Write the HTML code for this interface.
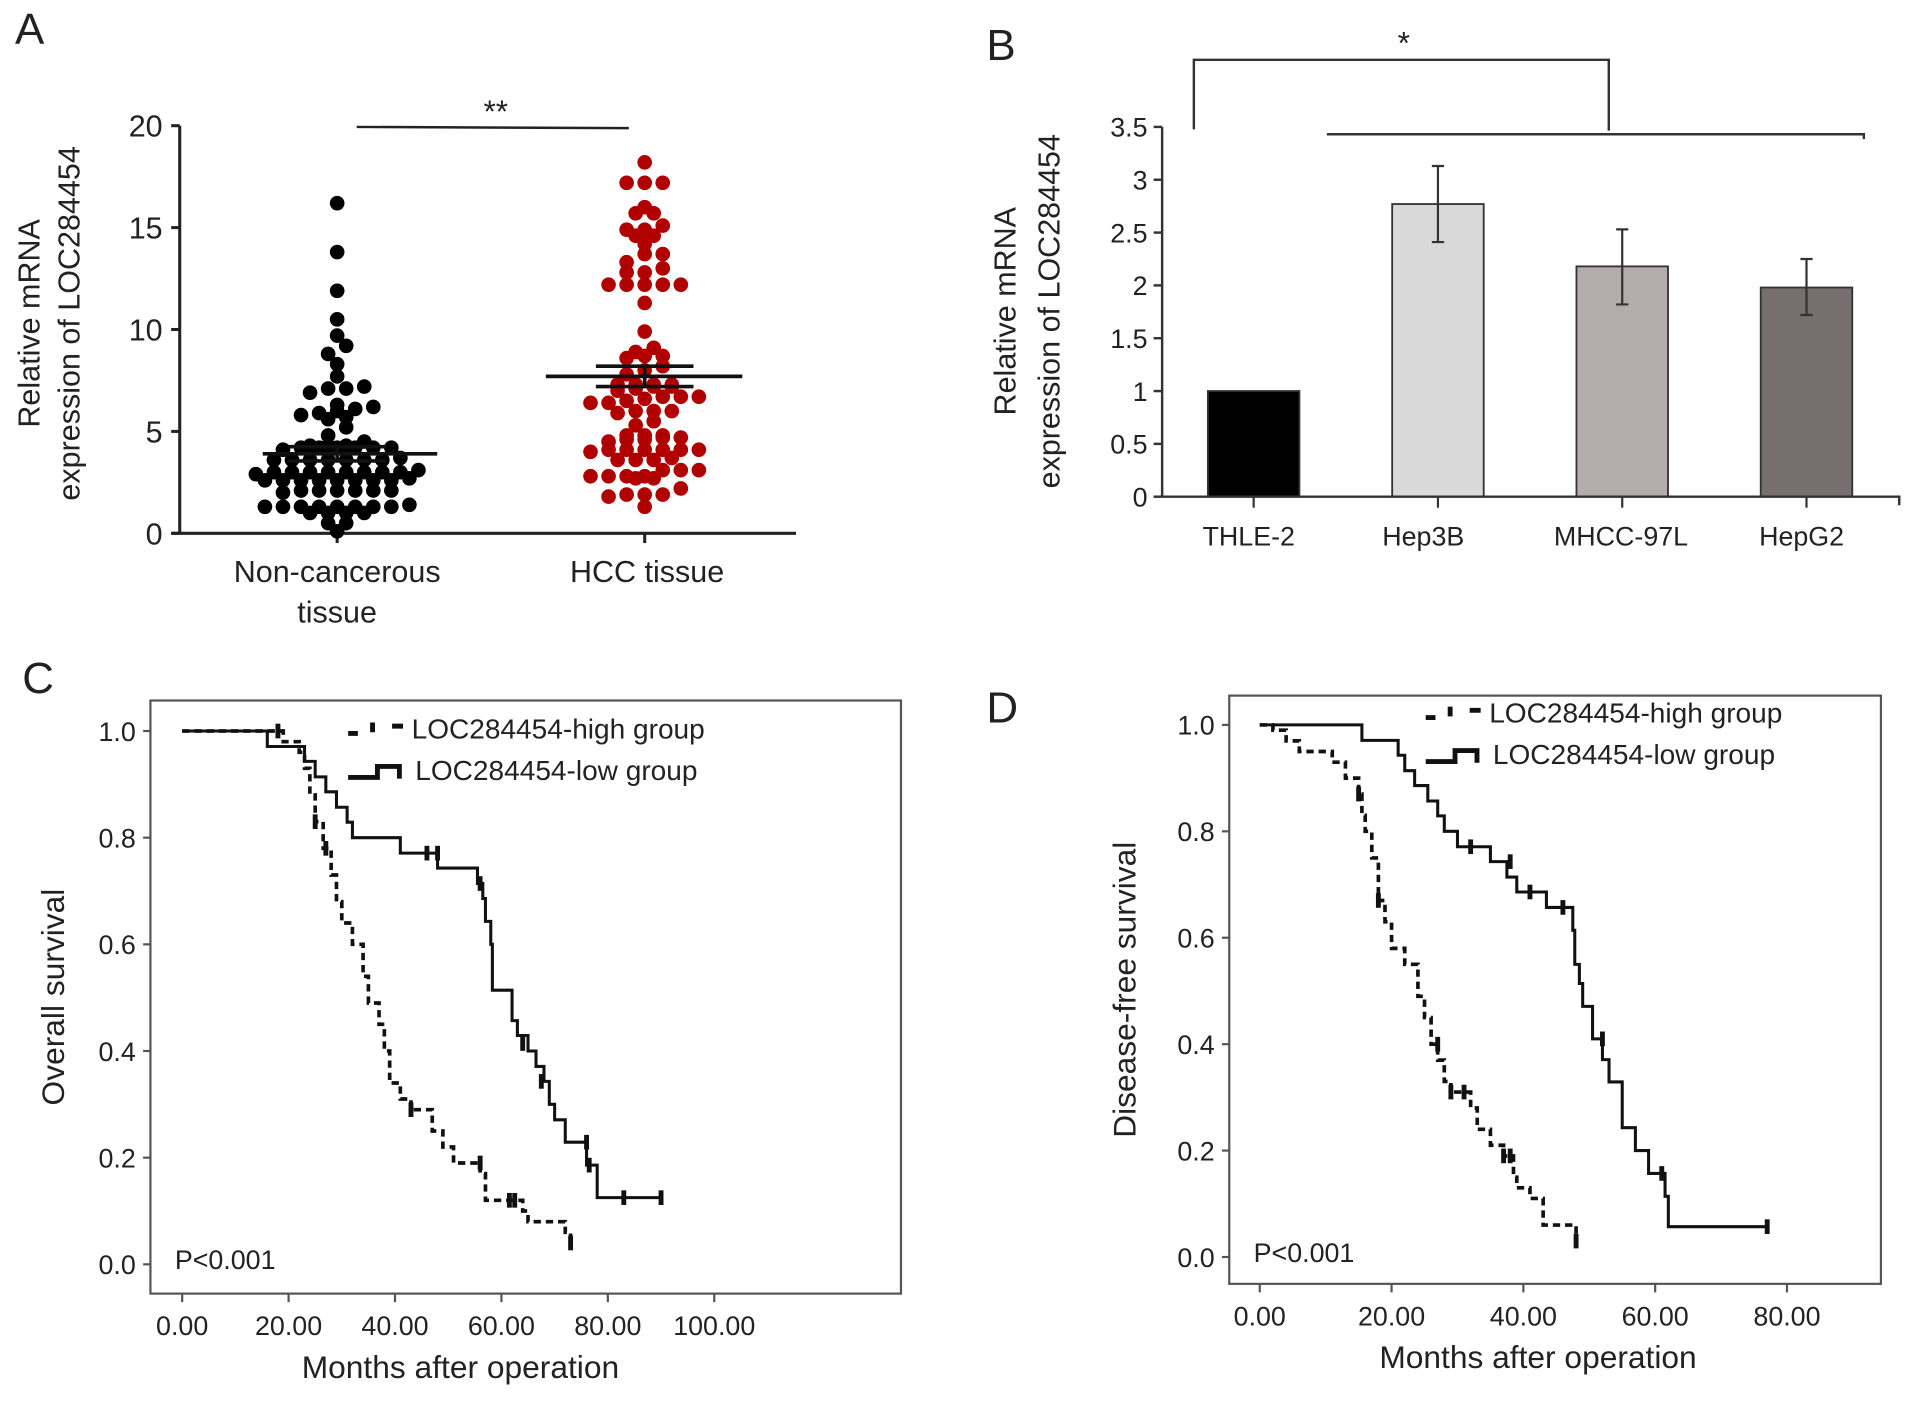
<!DOCTYPE html>
<html><head><meta charset="utf-8"><style>
html,body{margin:0;padding:0;background:#fff;}
svg{display:block;font-family:"Liberation Sans",Arial,sans-serif;}
</style></head><body>
<svg id="fig" width="1913" height="1401" viewBox="0 0 1567 1148" xmlns="http://www.w3.org/2000/svg">
<rect width="1567" height="1148" fill="#fff"/>
</svg>
<script>
// ---------- Panel A data ----------
const aCategories = ["Non-cancerous tissue", "HCC tissue"];
const aNonCancer = [16.2,13.8,11.9,10.5,9.7,9.2,8.8,8.3,7.7,7.2,7.1,7.1,6.9,6.3,6.1,6.2,6.0,5.8,5.7,5.6,5.9,5.2,4.8,4.5,4.3,4.2,4.2,4.2,4.2,4.1,4.3,4.2,4.2,4.3,3.6,3.6,3.6,3.7,3.6,3.6,3.6,3.6,3.0,3.0,3.1,3.0,3.0,3.0,3.0,3.0,3.0,2.9,2.6,2.6,2.6,2.6,2.6,2.7,2.6,2.6,2.6,2.1,2.1,2.1,2.0,2.1,2.1,2.1,1.3,1.3,1.3,1.3,1.3,1.3,1.3,1.4,1.3,1.0,1.0,1.0,1.0,0.5,0.5,0.1];
const aHCC = [18.2,17.2,17.2,17.2,16.0,15.7,15.7,15.1,14.9,14.9,14.6,14.6,14.2,13.7,13.7,13.3,13.0,12.8,12.8,12.2,12.2,12.2,12.2,12.2,11.3,9.9,9.1,8.9,8.7,8.7,8.6,8.2,8.0,7.8,7.3,7.3,7.2,7.3,7.1,7.0,7.3,7.2,6.7,6.7,6.6,6.7,6.5,6.4,6.4,6.0,6.0,5.9,6.0,5.5,5.3,4.8,4.8,4.7,4.8,4.6,4.6,4.7,4.5,4.1,4.1,4.1,4.1,4.0,4.1,4.1,3.6,3.6,3.7,3.6,3.1,3.1,3.1,2.8,2.8,2.8,2.7,2.7,2.8,2.2,1.9,1.9,1.9,1.8,1.3];
const aMeans = [3.9, 7.7];
const aSEM = [0.35, 0.5];
const aTicks = [0,5,10,15,20];
// ---------- Panel B data ----------
const bCategories = ["THLE-2","Hep3B","MHCC-97L","HepG2"];
const bValues = [1.0, 2.77, 2.18, 1.98];
const bErrLow = [1.0, 2.41, 1.82, 1.72];
const bErrHigh = [1.0, 3.13, 2.53, 2.25];
const bColors = ["#000000","#d9d9d9","#b3abac","#776e70"];
const bTicks = [0,0.5,1,1.5,2,2.5,3,3.5];
// ---------- Panel C data (KM steps: [time, survival]) ----------
const cLowSteps = [[0,1],[16,0.971],[23,0.943],[25,0.914],[27,0.886],[29,0.857],[31,0.829],[32,0.8],[41,0.771],[48,0.743],[55.5,0.714],[56.5,0.686],[57,0.643],[58,0.6],[58.3,0.514],[62,0.457],[63,0.429],[65,0.4],[66.5,0.371],[68,0.343],[69,0.3],[70,0.271],[72,0.229],[76,0.186],[78,0.125],[90,0.125]];
const cLowCensor = [[46,0.771],[48,0.771],[56,0.714],[64,0.414],[67.5,0.343],[76,0.229],[76.5,0.186],[83,0.125],[90,0.125]];
const cHighSteps = [[0,1],[19,0.98],[22,0.96],[23,0.93],[24,0.88],[25,0.83],[26.5,0.78],[28,0.73],[29,0.68],[30,0.64],[32,0.6],[34,0.54],[35,0.49],[37,0.45],[38,0.4],[39,0.34],[41,0.31],[43,0.29],[47,0.25],[49,0.22],[51,0.19],[56,0.17],[57,0.12],[64,0.1],[65,0.08],[72,0.06],[73,0.04]];
const cHighCensor = [[18,1.0],[25,0.83],[27,0.78],[43,0.29],[56,0.19],[61.5,0.12],[62.5,0.12],[73,0.04]];
const cXTicks = [0,20,40,60,80,100];
const kmYTicks = [0,0.2,0.4,0.6,0.8,1.0];
// ---------- Panel D data ----------
const dLowSteps = [[0,1],[15.5,0.971],[21,0.943],[22,0.914],[23.5,0.886],[25.5,0.857],[27,0.829],[28,0.8],[30,0.771],[35,0.743],[37.5,0.714],[39,0.686],[43.5,0.657],[47.5,0.614],[47.8,0.55],[48.5,0.514],[49,0.471],[50.5,0.41],[52,0.371],[53,0.329],[55,0.243],[57,0.2],[59,0.157],[61.5,0.114],[62,0.057],[77,0.057]];
const dLowCensor = [[32,0.771],[38,0.743],[41,0.686],[46,0.657],[52,0.41],[61,0.157],[77,0.057]];
const dHighSteps = [[0,1],[2,0.99],[4,0.97],[6,0.95],[11,0.93],[13,0.9],[15,0.87],[15.5,0.83],[16,0.8],[17,0.75],[18,0.67],[19,0.63],[20,0.58],[22,0.55],[24,0.49],[25,0.45],[26,0.4],[27,0.37],[28,0.33],[29,0.31],[32,0.28],[33,0.24],[35,0.21],[37,0.19],[38.5,0.15],[39,0.13],[41,0.11],[43,0.06],[47.5,0.06],[48,0.03]];
const dHighCensor = [[15,0.87],[18,0.67],[27,0.4],[29,0.31],[31,0.31],[37,0.19],[38,0.19],[48,0.03]];
const dXTicks = [0,20,40,60,80];

const NS="http://www.w3.org/2000/svg";
const svg=document.getElementById('fig');
function mk(tag, attrs, parent){
  const e=document.createElementNS(NS,tag);
  for(const k in attrs) e.setAttribute(k,attrs[k]);
  (parent||svg).appendChild(e); return e;
}
function txt(s, x, y, size, anchor, parent, rot){
  const t=mk('text',{x:x,y:y,'font-size':size,'text-anchor':anchor||'middle',fill:'#222'},parent);
  if(rot) t.setAttribute('transform','rotate(-90 '+x+' '+y+')');
  t.textContent=s; return t;
}
function grp(name){
  const g=mk('g',{});
  
  
  return g;
}

// ================= Panel A =================
(function(){
  const g=grp('panel-a');
  const lbl=txt('A',12,36,36,'start',g);
  
  
  const y=v=>437-v*(437-103)/20;
  const cx=[276,528];
  const ax=mk('path',{d:'M147 103 V437 M140 437 H652',stroke:'#222','stroke-width':2.5,fill:'none'},g);
  
  
  aTicks.forEach(v=>{
    const tk=mk('line',{x1:140,x2:147,y1:y(v),y2:y(v),stroke:'#222','stroke-width':2.5},g);
    
    
    const tl=txt(String(v),133,y(v)+9,25,'end',g);
    
    
  });
  cx.forEach(x=>{
    const tk=mk('line',{x1:x,x2:x,y1:437,y2:445,stroke:'#222','stroke-width':2.5},g);
    
    
  });
  const l1=txt('Non-cancerous',276,477,25,'middle',g);
  
  
  const l1b=txt('tissue',276,510,25,'middle',g);
  
  
  const l2=txt('HCC tissue',530,477,25,'middle',g);
  
  
  const t1=txt('Relative mRNA',32,265,25,'middle',g,true);
  
  
  const t2=txt('expression of LOC284454',65,265,25,'middle',g,true);
  
  
  const sl=mk('line',{x1:292,x2:515,y1:104,y2:105,stroke:'#222','stroke-width':2},g);
  
  
  const st=txt('**',406,100,26,'middle',g);
  
  
  // beeswarm: bin values into rows, spread each row horizontally
  const r=6, d=14.8;
  [[aNonCancer,'#000'],[aHCC,'#b00000']].forEach((pair,gi)=>{
    const bins={};
    pair[0].forEach(v=>{const k=Math.round(v*2)/2;(bins[k]=bins[k]||[]).push(v);});
    Object.keys(bins).forEach(k=>{
      const arr=bins[k].slice().sort((a,b)=>a-b);
      const n=arr.length;
      arr.forEach((v,j)=>{
        const px=cx[gi]+(j-(n-1)/2)*d;
        const c=mk('circle',{cx:px,cy:y(v),r:r,fill:pair[1]},g);
        
        
      });
    });
  });
  // mean & SEM
  [[215,358],[447,608]].forEach((w,i)=>{
    const m=mk('line',{x1:w[0],x2:w[1],y1:y(aMeans[i]),y2:y(aMeans[i]),stroke:'#111','stroke-width':3},g);
    
    
    const mid=cx[i];
    const e=mk('path',{d:`M${mid-40} ${y(aMeans[i]+aSEM[i])} H${mid+40} M${mid-40} ${y(aMeans[i]-aSEM[i])} H${mid+40} M${mid} ${y(aMeans[i]+aSEM[i])} V${y(aMeans[i]-aSEM[i])}`,stroke:'#111','stroke-width':3,fill:'none'},g);
    
    
  });
})();

// ================= Panel B =================
(function(){
  const g=grp('panel-b');
  const lbl=txt('B',808,49,36,'start',g);
  
  
  const y=v=>407-v*(407-104)/3.5;
  const centers=[1027,1178,1329,1480], bw=75;
  bCategories.forEach((c,i)=>{
    const b=mk('rect',{x:centers[i]-bw/2,y:y(bValues[i]),width:bw,height:407-y(bValues[i]),fill:bColors[i],stroke:'#333','stroke-width':1.5},g);
    
    
    if(bErrHigh[i]!==bErrLow[i]){
      const e=mk('path',{d:`M${centers[i]} ${y(bErrHigh[i])} V${y(bErrLow[i])} M${centers[i]-5} ${y(bErrHigh[i])} H${centers[i]+5} M${centers[i]-5} ${y(bErrLow[i])} H${centers[i]+5}`,stroke:'#333','stroke-width':1.8,fill:'none'},g);
      
      
    }
    const tk=mk('line',{x1:centers[i],x2:centers[i],y1:407,y2:416,stroke:'#333','stroke-width':1.8},g);
    
    
    const tl=txt(c,[1023,1166,1328,1476][i],447,22,'middle',g);
    
    
  });
  const ax=mk('path',{d:'M952 104 V407 M952 407 H1556 V414',stroke:'#333','stroke-width':2,fill:'none'},g);
  
  
  bTicks.forEach(v=>{
    const tk=mk('line',{x1:945,x2:952,y1:y(v),y2:y(v),stroke:'#333','stroke-width':2},g);
    
    
    const tl=txt(String(v),940,y(v)+8,22,'end',g);
    
    
  });
  const t1=txt('Relative mRNA',832,255,25,'middle',g,true);
  
  
  const t2=txt('expression of LOC284454',868,255,25,'middle',g,true);
  
  
  const br=mk('path',{d:'M978 106 V49 H1318 V107 M1087 110 H1527 L1527 114',stroke:'#333','stroke-width':2,fill:'none'},g);
  
  
  const st=txt('*',1150,44,26,'middle',g);
  
  
})();

// ================= KM panels =================
function km(cfg){
  const g=grp(cfg.name);
  const lbl=txt(cfg.letter,cfg.lx,cfg.ly,36,'start',g);
  
  
  const X=t=>cfg.x0+t*cfg.xs, Y=v=>cfg.y0-v*cfg.ys;
  const box=mk('rect',{x:cfg.bx1,y:cfg.by1,width:cfg.bx2-cfg.bx1,height:cfg.by2-cfg.by1,fill:'none',stroke:'#555','stroke-width':1.8},g);
  
  
  kmYTicks.forEach(v=>{
    const tk=mk('line',{x1:cfg.bx1-6,x2:cfg.bx1,y1:Y(v),y2:Y(v),stroke:'#555','stroke-width':1.8},g);
    
    
    const tl=txt(v.toFixed(1),cfg.bx1-12,Y(v)+8,22,'end',g);
    
    
  });
  cfg.xticks.forEach(t=>{
    const tk=mk('line',{x1:X(t),x2:X(t),y1:cfg.by2,y2:cfg.by2+7,stroke:'#555','stroke-width':1.8},g);
    
    
    const tl=txt(t.toFixed(2),X(t),cfg.by2+34,22,'middle',g);
    
    
  });
  const xt=txt('Months after operation',cfg.xtx,cfg.by2+69,26,'middle',g);
  
  
  const yt=txt(cfg.ytitle,cfg.ytx,(cfg.by1+cfg.by2)/2,26,'middle',g,true);
  
  
  function stepPath(steps){
    let d=`M${X(steps[0][0])} ${Y(steps[0][1])}`;
    for(let i=1;i<steps.length;i++){d+=` H${X(steps[i][0])} V${Y(steps[i][1])}`;}
    return d;
  }
  const hp=mk('path',{d:stepPath(cfg.high),stroke:'#111','stroke-width':3,fill:'none','stroke-dasharray':'6 4'},g);
  
  
  const lp=mk('path',{d:stepPath(cfg.low),stroke:'#111','stroke-width':2.5,fill:'none'},g);
  
  
  cfg.highC.concat(cfg.lowC).forEach(p=>{
    const c=mk('path',{d:`M${X(p[0])} ${Y(p[1])-6} V${Y(p[1])+6}`,stroke:'#111','stroke-width':4},g);
    
    
  });
  const lh=mk('path',{d:`M${cfg.legx} ${cfg.legy+4} h8 M${cfg.legx+20} ${cfg.legy+3} v-8 M${cfg.legx+36} ${cfg.legy-2} h9`,stroke:'#111','stroke-width':4,fill:'none'},g);
  
  
  const lht=txt('LOC284454-high group',cfg.legx+52,cfg.legy+8,23,'start',g);
  
  
  const ll=mk('path',{d:`M${cfg.legx} ${cfg.legy+40} h24 v-9 h18 v10`,stroke:'#111','stroke-width':4,fill:'none'},g);
  
  
  const llt=txt('LOC284454-low group',cfg.legx+55,cfg.legy+42,23,'start',g);
  
  
  const pv=txt('P<0.001',cfg.bx1+20,cfg.y0+4,22,'start',g);
  
  
}
km({name:'panel-c',letter:'C',lx:18,ly:568,x0:149,xs:4.36,y0:1036,ys:437,bx1:123,bx2:738,by1:574,by2:1060,
  xticks:cXTicks,xtx:377,ytitle:'Overall survival',ytx:52,high:cHighSteps,low:cLowSteps,highC:cHighCensor,lowC:cLowCensor,legx:285,legy:597});
km({name:'panel-d',letter:'D',lx:808,ly:592,x0:1032,xs:5.4,y0:1030,ys:436,bx1:1007,bx2:1541,by1:570,by2:1052,
  xticks:dXTicks,xtx:1260,ytitle:'Disease-free survival',ytx:930,high:dHighSteps,low:dLowSteps,highC:dHighCensor,lowC:dLowCensor,legx:1168,legy:584});
</script>
</body></html>
